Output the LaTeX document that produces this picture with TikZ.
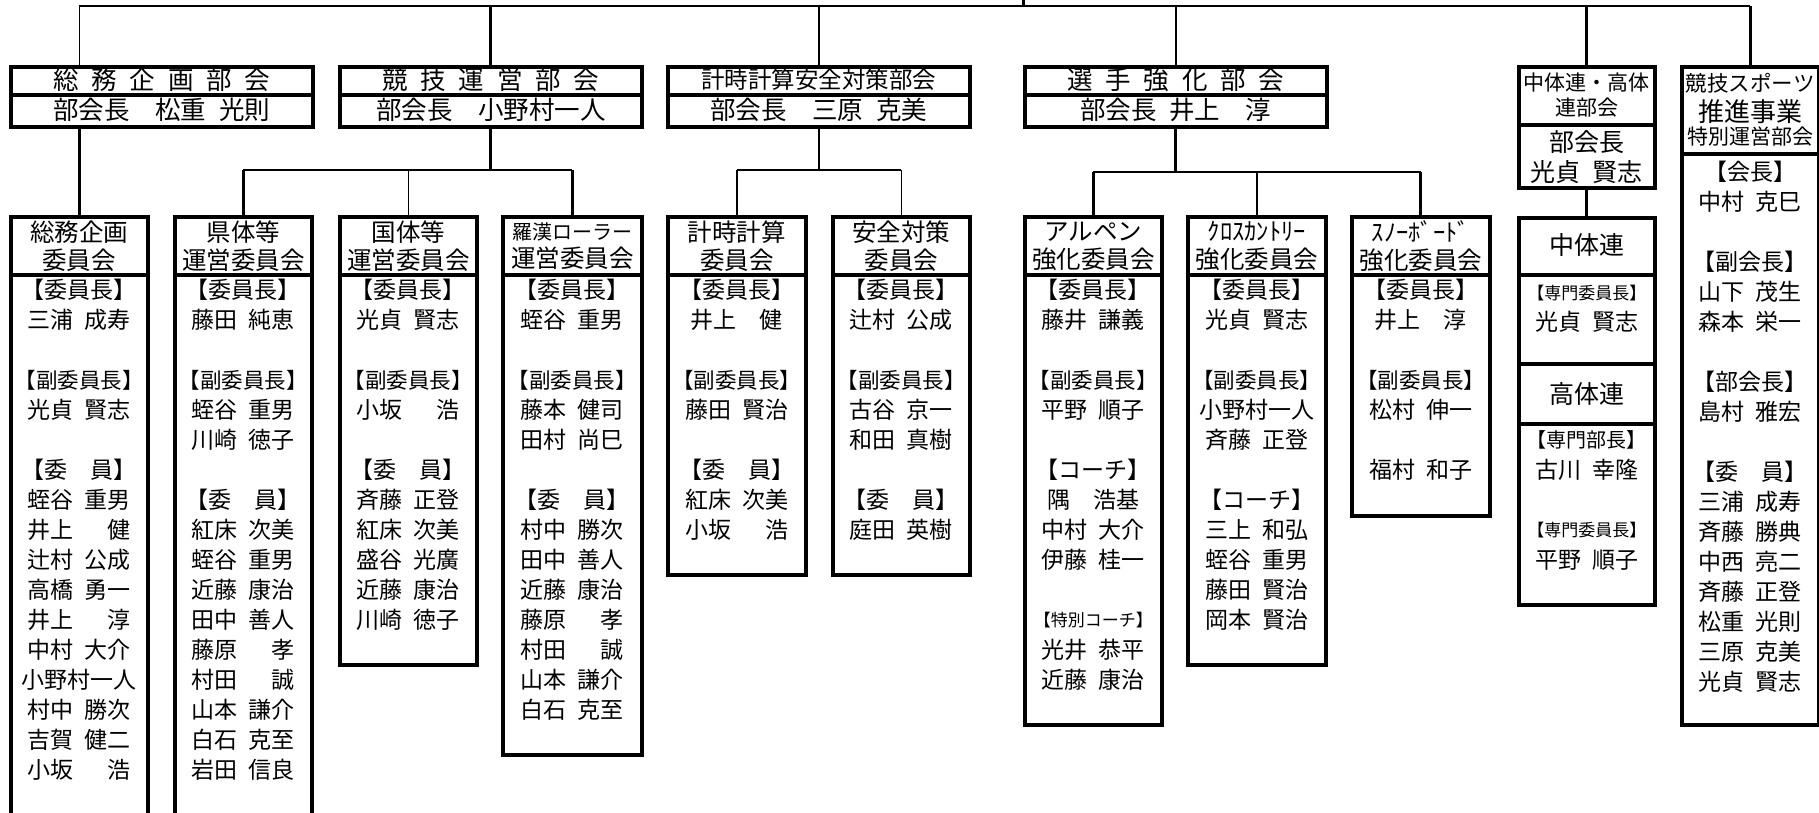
\documentclass[tikz,border=0pt]{standalone}
\usepackage{fontspec}
\setmainfont{Noto Sans CJK JP}[WordSpace=2.2]
\newcommand{\jfs}[1]{\fontsize{#1}{#1}\selectfont}
\newcommand{\fukuiin}{{\jfs{21.5}【副委員長】}}
\tikzset{
  box/.style={draw, line width=3.5pt, inner sep=0pt, anchor=north west},
  divline/.style={line width=3.5pt},
  link/.style={line width=1.5pt},
  heavylink/.style={line width=3pt},
  bu/.style={inner sep=0pt, font=\jfs{25.5}},
  head/.style={align=center, inner sep=0pt, font=\fontsize{24.5}{28}\selectfont},
  mem/.style={inner sep=0pt, font=\jfs{23}},
}
\begin{document}
\begin{tikzpicture}[x=1pt, y=-1pt]
    \useasboundingbox (0,0) rectangle (1819,812);

    % bukai (top row)
    \foreach \n/\x in {somubu/9, kyogibu/338, keijibu/666, senshubu/1023}
    {
      \node[box, minimum width=302, minimum height=60] (\n) at (\x,65) {};
      \draw[divline] (\n.west |- 0,95) -- (\n.east |- 0,95);
    }
    \node[bu] (somubu-t) at (somubu.north |- 0,80) {総 務 企 画 部 会};
    \node[bu] (somubu-c) at (somubu.north |- 0,110) {部会長　松重 光則};
    \node[bu] (kyogibu-t) at (kyogibu.north |- 0,80) {競 技 運 営 部 会};
    \node[bu] (kyogibu-c) at (kyogibu.north |- 0,110) {部会長　小野村一人};
    \node[bu, font=\jfs{23.5}] (keijibu-t) at (keijibu.north |- 0,80) {計時計算安全対策部会};
    \node[bu] (keijibu-c) at (keijibu.north |- 0,110) {部会長　三原 克美};
    \node[bu] (senshubu-t) at (senshubu.north |- 0,80) {選 手 強 化 部 会};
    \node[bu] (senshubu-c) at (senshubu.north |- 0,110) {部会長 井上　淳};

    \node[box, minimum width=136, minimum height=121] (chukobu) at (1517,65) {};
    \draw[divline] (chukobu.west |- 0,125) -- (chukobu.east |- 0,125);
    \node[bu, align=center, font=\fontsize{21}{25}\selectfont] (chukobu-t) at (chukobu.north |- 0,95) {中体連・高体\\連部会};
    \node[bu, align=center, font=\fontsize{25}{30}\selectfont] (chukobu-c) at (chukobu.north |- 0,157) {部会長\\光貞 賢志};

    \node[box, minimum width=137, minimum height=658] (suishin) at (1680,65) {};
    \draw[divline] (suishin.west |- 0,154) -- (suishin.east |- 0,154);
    \node[bu, font=\jfs{21.5}] (suishin-t1) at (suishin.north |- 0,83) {競技スポーツ};
    \node[bu, font=\jfs{26}] (suishin-t2) at (suishin.north |- 0,112) {推進事業};
    \node[bu, font=\jfs{21}] (suishin-t3) at (suishin.north |- 0,137) {特別運営部会};

    % iinkai
    \foreach \n/\x/\w/\h in {somu/9/137/620, kentai/173/137/620, kokutai/338/137/448,
      rakan/501/139/538, keiji/666/138/358, anzen/831/137/358,
      alpen/1023/137/508, cross/1186/138/448, snow/1350/138/299}
    {
      \node[box, minimum width=\w, minimum height=\h] (\n) at (\x,215) {};
      \draw[divline] (\n.west |- 0,275) -- (\n.east |- 0,275);
    }
    \foreach \n/\t in {somu/{総務企画\\委員会}, kentai/{県体等\\運営委員会},
      kokutai/{国体等\\運営委員会}, rakan/{{\jfs{20}羅漢ローラー}\\運営委員会},
      keiji/{計時計算\\委員会}, anzen/{安全対策\\委員会},
      alpen/{アルペン\\強化委員会}, cross/{ｸﾛｽｶﾝﾄﾘｰ\\強化委員会},
      snow/{ｽﾉｰﾎﾞｰﾄﾞ\\強化委員会}}
      \path (\n.north) ++(0,31) node[head] (\n-h) {\t};

    \node[box, minimum width=136, minimum height=387] (chukoren) at (1517,216) {};
    \foreach \y in {275,364,424}
      \draw[divline] (chukoren.west |- 0,\y) -- (chukoren.east |- 0,\y);

    % connectors
    \coordinate (topL) at (somu.north |- 0,6);
    \coordinate (stub) at (1023,0);
    \draw[link, line width=2pt] (topL) -- (suishin.north |- topL);
    \draw[heavylink] (stub) -- (stub |- topL);
    \draw[link] (topL) -- (topL |- somubu.north);
    \draw[heavylink] (kyogibu.north) -- (kyogibu.north |- topL);
    \draw[link] (keijibu.north) -- (keijibu.north |- topL);
    \draw[link] (senshubu.north) -- (senshubu.north |- topL);
    \draw[heavylink] (chukobu.north) -- (chukobu.north |- topL);
    \draw[heavylink] (suishin.north) -- (suishin.north |- topL);

    \draw[heavylink] (somu.north |- somubu.south) -- (somu.north);

    \draw[heavylink] (kyogibu.south) -- (kyogibu.south |- 0,170) coordinate (kyogi-j);
    \draw[link] (kentai.north |- kyogi-j) -- (rakan.north |- kyogi-j);
    \draw[heavylink] (kentai.north) -- (kentai.north |- kyogi-j);
    \draw[link] (kokutai.north) -- (kokutai.north |- kyogi-j);
    \draw[heavylink] (rakan.north) -- (rakan.north |- kyogi-j);

    \draw[link] (keijibu.south) -- (keijibu.south |- 0,170) coordinate (keiji-j);
    \draw[link] (keiji.north |- keiji-j) -- (anzen.north |- keiji-j);
    \draw[link] (keiji.north) -- (keiji.north |- keiji-j);
    \draw[link] (anzen.north) -- (anzen.north |- keiji-j);

    \draw[heavylink] (senshubu.south) -- (senshubu.south |- 0,172) coordinate (senshu-j);
    \draw[link] (alpen.north |- senshu-j) -- (snow.north |- senshu-j);
    \draw[heavylink] (alpen.north) -- (alpen.north |- senshu-j);
    \draw[link] (cross.north) -- (cross.north |- senshu-j);
    \draw[heavylink] (snow.north) -- (snow.north |- senshu-j);

    \draw[heavylink] (chukobu.south) -- (chukoren.north);

    % members
    \foreach \t [count=\i] in {【委員長】,三浦 成寿,,\fukuiin,光貞 賢志,,【委　員】,蛭谷 重男,井上　 健,辻村 公成,高橋 勇一,井上　 淳,中村 大介,小野村一人,村中 勝次,吉賀 健二,小坂　 浩}
      \path (somu.north) ++(0,{45+30*\i}) node[mem] (somu-\i) {\t};
    \foreach \t [count=\i] in {【委員長】,藤田 純恵,,\fukuiin,蛭谷 重男,川崎 徳子,,【委　員】,紅床 次美,蛭谷 重男,近藤 康治,田中 善人,藤原　 孝,村田　 誠,山本 謙介,白石 克至,岩田 信良}
      \path (kentai.north) ++(0,{45+30*\i}) node[mem] (kentai-\i) {\t};
    \foreach \t [count=\i] in {【委員長】,光貞 賢志,,\fukuiin,小坂　 浩,,【委　員】,斉藤 正登,紅床 次美,盛谷 光廣,近藤 康治,川崎 徳子}
      \path (kokutai.north) ++(0,{45+30*\i}) node[mem] (kokutai-\i) {\t};
    \foreach \t [count=\i] in {【委員長】,蛭谷 重男,,\fukuiin,藤本 健司,田村 尚巳,,【委　員】,村中 勝次,田中 善人,近藤 康治,藤原　 孝,村田　 誠,山本 謙介,白石 克至}
      \path (rakan.north) ++(0,{45+30*\i}) node[mem] (rakan-\i) {\t};
    \foreach \t [count=\i] in {【委員長】,井上　健,,\fukuiin,藤田 賢治,,【委　員】,紅床 次美,小坂　 浩}
      \path (keiji.north) ++(0,{45+30*\i}) node[mem] (keiji-\i) {\t};
    \foreach \t [count=\i] in {【委員長】,辻村 公成,,\fukuiin,古谷 京一,和田 真樹,,【委　員】,庭田 英樹}
      \path (anzen.north) ++(0,{45+30*\i}) node[mem] (anzen-\i) {\t};
    \foreach \t [count=\i] in {【委員長】,藤井 謙義,,\fukuiin,平野 順子,,【コーチ】,隅　浩基,中村 大介,伊藤 桂一,,{{\jfs{17}【特別コーチ】}},光井 恭平,近藤 康治}
      \path (alpen.north) ++(0,{45+30*\i}) node[mem] (alpen-\i) {\t};
    \foreach \t [count=\i] in {【委員長】,光貞 賢志,,\fukuiin,小野村一人,斉藤 正登,,【コーチ】,三上 和弘,蛭谷 重男,藤田 賢治,岡本 賢治}
      \path (cross.north) ++(0,{45+30*\i}) node[mem] (cross-\i) {\t};
    \foreach \t [count=\i] in {【委員長】,井上　淳,,\fukuiin,松村 伸一,,福村 和子}
      \path (snow.north) ++(0,{45+30*\i}) node[mem] (snow-\i) {\t};
    \foreach \t [count=\i] in {【会長】,中村 克巳,,【副会長】,山下 茂生,森本 栄一,,【部会長】,島村 雅宏,,【委　員】,三浦 成寿,斉藤 勝典,中西 亮二,斉藤 正登,松重 光則,三原 克美,光貞 賢志}
      \path (suishin.north) ++(0,{77+30*\i}) node[mem] (suishin-\i) {\t};

    % chutairen / kotairen
    \node[bu, font=\jfs{25}] (chu-t) at (chukoren.north |- 0,245) {中体連};
    \node[mem, font=\jfs{17}] (chu-1) at (chukoren.north |- 0,293) {【専門委員長】};
    \node[mem] (chu-2) at (chukoren.north |- 0,322) {光貞 賢志};
    \node[bu, font=\jfs{25}] (ko-t) at (chukoren.north |- 0,394) {高体連};
    \node[mem, font=\jfs{20}] (ko-1) at (chukoren.north |- 0,440) {【専門部長】};
    \node[mem] (ko-2) at (chukoren.north |- 0,470) {古川 幸隆};
    \node[mem, font=\jfs{17}] (ko-3) at (chukoren.north |- 0,530) {【専門委員長】};
    \node[mem] (ko-4) at (chukoren.north |- 0,560) {平野 順子};
\end{tikzpicture}
\end{document}
